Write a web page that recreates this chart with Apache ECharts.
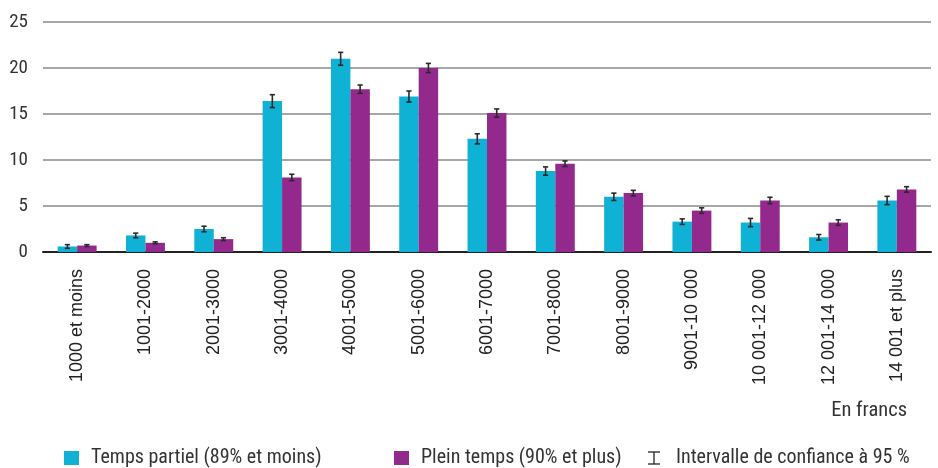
<!DOCTYPE html>
<html>
<head>
<meta charset="utf-8">
<script src="https://cdn.jsdelivr.net/npm/echarts@6/dist/echarts.min.js"></script>
<style>
  html, body { margin: 0; padding: 0; background: #fff; }
  #chart { width: 938px; height: 468px; }
</style>
</head>
<body>
<div id="chart"></div>
<script>
// Salary brackets (francs)
const categories = [
  '1000 et moins', '1001-2000', '2001-3000', '3001-4000', '4001-5000',
  '5001-6000', '6001-7000', '7001-8000', '8001-9000', '9001-10 000',
  '10 001-12 000', '12 001-14 000', '14 001 et plus'
];
// Share of employees (%) by working time
const partTime = [0.6, 1.8, 2.5, 16.4, 21.0, 16.9, 12.3, 8.8, 6.0, 3.3, 3.2, 1.6, 5.6];
const fullTime = [0.7, 1.0, 1.4, 8.1, 17.7, 20.0, 15.1, 9.6, 6.4, 4.5, 5.6, 3.2, 6.8];
// Half-width of the 95% confidence interval
const partTimeCI = [0.2, 0.25, 0.3, 0.7, 0.7, 0.6, 0.55, 0.45, 0.4, 0.3, 0.45, 0.3, 0.45];
const fullTimeCI = [0.1, 0.1, 0.15, 0.35, 0.45, 0.5, 0.45, 0.3, 0.3, 0.3, 0.35, 0.3, 0.3];
const yTicks = [0, 5, 10, 15, 20, 25];

const names = {
  part: 'Temps partiel (89% et moins)',
  full: 'Plein temps (90% et plus)',
  ci: 'Intervalle de confiance à 95 %'
};
const colors = { part: '#0fb2d5', full: '#93298c', ci: '#2a2a2a', text: '#333' };
const gapRatio = 0.43;
const narrow = '"Liberation Sans Narrow", "Roboto Condensed", Roboto, sans-serif';

// Error bar drawn at the centre of the left (side=-1) or right (side=1) bar
function errorBar(side) {
  return function (params, api) {
    const idx = api.value(0);
    const val = api.value(1);
    const err = api.value(2);
    const band = api.size([1, 0])[0];
    const barW = band * (1 - gapRatio) / 2;
    const cx = api.coord([idx, val])[0] + side * barW / 2;
    const yHi = api.coord([idx, val + err])[1];
    const yLo = api.coord([idx, val - err])[1];
    const cap = 2.6;
    const style = { stroke: colors.ci, lineWidth: 1.6 };
    return {
      type: 'group',
      children: [
        { type: 'line', shape: { x1: cx, y1: yHi, x2: cx, y2: yLo }, style },
        { type: 'line', shape: { x1: cx - cap, y1: yHi, x2: cx + cap, y2: yHi }, style },
        { type: 'line', shape: { x1: cx - cap, y1: yLo, x2: cx + cap, y2: yLo }, style }
      ]
    };
  };
}

// Key below the chart
const keyY = 458;
const keyFont = '20px ' + narrow;
function keyLabel(x, text) {
  return {
    type: 'text', x: x, y: keyY,
    style: { text: text, font: keyFont, fill: colors.text, textVerticalAlign: 'middle' }
  };
}
const keyItems = [
  { type: 'rect', shape: { x: 64, y: keyY - 7, width: 15, height: 14 }, style: { fill: colors.part } },
  keyLabel(91, names.part),
  { type: 'rect', shape: { x: 394, y: keyY - 7, width: 15, height: 14 }, style: { fill: colors.full } },
  keyLabel(421, names.full),
  {
    type: 'group', children: [
      { type: 'line', shape: { x1: 648, y1: keyY - 6, x2: 660, y2: keyY - 6 }, style: { stroke: colors.text, lineWidth: 1.4 } },
      { type: 'line', shape: { x1: 648, y1: keyY + 6, x2: 660, y2: keyY + 6 }, style: { stroke: colors.text, lineWidth: 1.4 } },
      { type: 'line', shape: { x1: 654, y1: keyY - 6, x2: 654, y2: keyY + 6 }, style: { stroke: colors.text, lineWidth: 1.4 } }
    ]
  },
  keyLabel(676, names.ci),
  {
    type: 'text', x: 907, y: 411,
    style: { text: 'En francs', font: '20.5px ' + narrow, fill: colors.text, textAlign: 'right', textVerticalAlign: 'middle' }
  }
];

const chart = echarts.init(document.getElementById('chart'), null, { renderer: 'canvas' });
chart.setOption({
  animation: false,
  backgroundColor: '#fff',
  grid: { left: 43, right: 7, top: 22, bottom: 216, containLabel: false },
  graphic: keyItems,
  xAxis: {
    type: 'category',
    data: categories,
    axisLine: { lineStyle: { color: '#222', width: 2 } },
    axisTick: { show: false },
    axisLabel: {
      rotate: 90, interval: 0, margin: 17,
      fontFamily: '"Liberation Sans", Arial, sans-serif', fontSize: 18, color: '#222'
    }
  },
  yAxis: {
    type: 'value', min: 0, max: 25, interval: 5,
    axisLine: { show: false },
    axisTick: { show: false },
    splitLine: { lineStyle: { color: '#8a8a8a', width: 1.6 } },
    axisLabel: {
      margin: 15, fontFamily: narrow, fontSize: 19, color: colors.text,
      formatter: v => yTicks.includes(v) ? String(v) : ''
    }
  },
  series: [
    {
      name: names.part, type: 'bar', data: partTime,
      barGap: '0%', barCategoryGap: (gapRatio * 100) + '%',
      itemStyle: { color: colors.part }
    },
    {
      name: names.full, type: 'bar', data: fullTime,
      itemStyle: { color: colors.full }
    },
    {
      name: names.ci, type: 'custom', renderItem: errorBar(-1),
      itemStyle: { color: colors.ci },
      encode: { x: 0, y: 1 },
      data: partTime.map((v, i) => [i, v, partTimeCI[i]]),
      z: 10
    },
    {
      name: names.ci, type: 'custom', renderItem: errorBar(1),
      itemStyle: { color: colors.ci },
      encode: { x: 0, y: 1 },
      data: fullTime.map((v, i) => [i, v, fullTimeCI[i]]),
      z: 10
    }
  ]
});
</script>
</body>
</html>
